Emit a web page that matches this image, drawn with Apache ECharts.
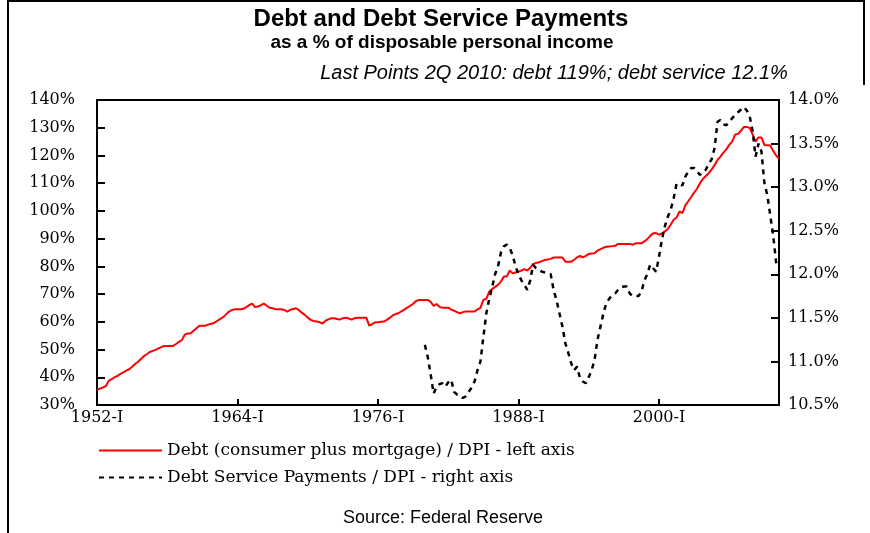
<!DOCTYPE html>
<html>
<head>
<meta charset="utf-8">
<script src="https://cdn.jsdelivr.net/npm/echarts@6/dist/echarts.min.js"></script>
<style>
html,body{margin:0;padding:0;background:#fff;}
#chart{width:870px;height:533px;}
</style>
</head>
<body>
<div id="chart"></div>
<script>
// ---- Data (quarterly, 1952-I .. 2010-II) ----
var startYear = 1952;
var endYear = 2010;
var endQuarter = 2;
var quarterNames = ['I', 'II', 'III', 'IV'];

// Debt (consumer plus mortgage) / DPI, % — left axis, one row per year (Q1..Q4)
var debtValues = [
  35.5, 35.9, 36.3, 36.8,   // 1952
  38.7, 39.3, 40.0, 40.5,   // 1953
  41.2, 41.8, 42.4, 42.9,   // 1954
  43.8, 44.8, 45.6, 46.6,   // 1955
  47.6, 48.3, 49.1, 49.5,   // 1956
  49.9, 50.4, 50.9, 51.3,   // 1957
  51.3, 51.3, 51.3, 52.0,   // 1958
  52.8, 53.4, 55.4, 55.8,   // 1959
  55.9, 56.8, 57.7, 58.6,   // 1960
  58.6, 58.6, 59.0, 59.3,   // 1961
  59.6, 60.3, 61.0, 61.6,   // 1962
  62.6, 63.6, 64.2, 64.5,   // 1963
  64.5, 64.5, 64.7, 65.3,   // 1964
  66.0, 66.6, 65.3, 65.5,   // 1965
  66.0, 66.6, 65.8, 65.1,   // 1966
  64.9, 64.5, 64.5, 64.5,   // 1967
  64.3, 63.7, 64.3, 64.6,   // 1968
  64.9, 64.2, 63.3, 62.5,   // 1969
  61.5, 60.7, 60.3, 60.1,   // 1970
  59.9, 59.4, 60.3, 60.9,   // 1971
  61.3, 61.3, 61.0, 60.8,   // 1972
  61.3, 61.5, 61.2, 60.8,   // 1973
  61.3, 61.5, 61.5, 61.5,   // 1974
  61.5, 58.6, 59.2, 59.8,   // 1975
  59.8, 60.0, 60.1, 60.7,   // 1976
  61.4, 62.3, 62.8, 63.1,   // 1977
  63.8, 64.4, 65.1, 65.8,   // 1978
  66.5, 67.5, 67.9, 67.9,   // 1979
  67.9, 67.9, 67.2, 65.7,   // 1980
  66.4, 65.4, 65.1, 65.1,   // 1981
  65.1, 64.4, 64.0, 63.5,   // 1982
  63.1, 63.5, 63.7, 63.7,   // 1983
  63.7, 63.7, 64.5, 65.0,   // 1984
  67.9, 68.3, 70.9, 71.8,   // 1985
  72.6, 73.3, 74.5, 76.3,   // 1986
  76.3, 78.5, 77.5, 77.8,   // 1987
  78.1, 78.5, 79.0, 78.5,   // 1988
  79.5, 80.9, 81.2, 81.5,   // 1989
  81.9, 82.3, 82.5, 82.7,   // 1990
  83.2, 83.2, 83.2, 83.2,   // 1991
  81.7, 81.7, 81.7, 82.4,   // 1992
  83.2, 83.8, 83.2, 83.8,   // 1993
  84.5, 84.6, 84.7, 85.7,   // 1994
  86.2, 86.7, 87.1, 87.2,   // 1995
  87.3, 87.4, 88.1, 88.1,   // 1996
  88.1, 88.1, 88.1, 87.8,   // 1997
  88.3, 88.3, 88.3, 89.0,   // 1998
  89.8, 91.0, 91.9, 92.0,   // 1999
  91.4, 91.9, 92.6, 93.5,   // 2000
  95.0, 96.8, 97.6, 99.8,   // 2001
  99.2, 102.0, 103.5, 105.0, // 2002
  106.6, 108.0, 110.0, 111.5, // 2003
  112.6, 113.6, 115.0, 116.5, // 2004
  118.4, 119.6, 121.0, 122.2, // 2005
  123.8, 125.0, 127.5, 127.8, // 2006
  128.9, 130.3, 130.3, 129.9, // 2007
  127.5, 125.0, 126.5, 126.5, // 2008
  123.8, 123.7, 123.6, 121.7, // 2009
  120.0, 118.8               // 2010
];

// Debt Service Payments / DPI, % — right axis, starts 1980-I
var serviceStartYear = 1980;
var serviceValues = [
  11.19, 11.05, 10.85, 10.63, // 1980
  10.71, 10.74, 10.75, 10.71, // 1981
  10.76, 10.79, 10.65, 10.62, // 1982
  10.61, 10.58, 10.60, 10.65, // 1983
  10.70, 10.77, 10.90, 11.00, // 1984
  11.28, 11.55, 11.72, 11.85, // 1985
  12.00, 12.09, 12.25, 12.32, // 1986
  12.34, 12.30, 12.22, 12.09, // 1987
  12.00, 11.93, 11.88, 11.82, // 1988
  11.93, 12.11, 12.07, 12.05, // 1989
  12.03, 12.02, 12.01, 12.00, // 1990
  11.82, 11.70, 11.55, 11.40, // 1991
  11.21, 11.10, 10.98, 10.90, // 1992
  10.94, 10.81, 10.77, 10.75, // 1993
  10.82, 10.90, 11.02, 11.25, // 1994
  11.40, 11.55, 11.67, 11.72, // 1995
  11.76, 11.78, 11.82, 11.85, // 1996
  11.86, 11.86, 11.78, 11.75, // 1997
  11.75, 11.75, 11.80, 11.93, // 1998
  12.00, 12.11, 12.07, 12.03, // 1999
  12.20, 12.40, 12.55, 12.66, // 2000
  12.74, 12.87, 13.04, 13.03, // 2001
  13.02, 13.12, 13.18, 13.22, // 2002
  13.22, 13.18, 13.14, 13.18, // 2003
  13.20, 13.27, 13.32, 13.45, // 2004
  13.75, 13.77, 13.72, 13.71, // 2005
  13.75, 13.79, 13.83, 13.86, // 2006
  13.89, 13.92, 13.88, 13.81, // 2007
  13.64, 13.35, 13.50, 13.41, // 2008
  13.05, 12.91, 12.68, 12.45, // 2009
  12.14, 12.10                // 2010
];

var xTickLabels = ['1952-I', '1964-I', '1976-I', '1988-I', '2000-I'];
var leftAxisMin = 30, leftAxisMax = 140, leftAxisStep = 10;
var rightAxisMin = 10.5, rightAxisMax = 14.0, rightAxisStep = 0.5;

var seriesNames = [
  'Debt (consumer plus mortgage) / DPI - left axis',
  'Debt Service Payments / DPI - right axis'
];

// ---- Build categories ----
var categories = [];
for (var y = startYear; y <= endYear; y++) {
  for (var q = 0; q < 4; q++) {
    if (y === endYear && q >= endQuarter) break;
    categories.push(y + '-' + quarterNames[q]);
  }
}
var serviceOffset = categories.indexOf(serviceStartYear + '-I');
var serviceData = [];
for (var i = 0; i < categories.length; i++) {
  var k = i - serviceOffset;
  serviceData.push(k >= 0 && k < serviceValues.length ? serviceValues[k] : null);
}

var serif = 'DejaVu Serif';

var chart = echarts.init(document.getElementById('chart'), null, {renderer: 'canvas'});
chart.setOption({
  animation: false,
  backgroundColor: '#ffffff',
  grid: {
    left: 97, right: 91, top: 100, bottom: 128,
    show: true, borderColor: '#000', borderWidth: 2, backgroundColor: 'transparent'
  },
  legend: {
    orient: 'vertical',
    left: 98, top: 442,
    padding: 0,
    itemWidth: 63, itemHeight: 14, itemGap: 10,
    itemStyle: {color: 'rgba(0,0,0,0)', borderColor: 'rgba(0,0,0,0)', borderWidth: 0, opacity: 0},
    textStyle: {fontFamily: serif, fontSize: 17, color: '#000'},
    data: seriesNames
  },
  xAxis: {
    type: 'category',
    data: categories,
    boundaryGap: false,
    axisLine: {show: true, lineStyle: {color: '#000', width: 2}},
    axisTick: {
      show: true, inside: true, length: 6,
      lineStyle: {color: '#000', width: 2},
      interval: function (idx, val) { return xTickLabels.indexOf(val) >= 0; }
    },
    axisLabel: {
      interval: function (idx, val) { return xTickLabels.indexOf(val) >= 0; },
      fontFamily: serif, fontSize: 16, color: '#000', margin: 5
    },
    splitLine: {show: false}
  },
  yAxis: [{
    type: 'value',
    position: 'left',
    min: leftAxisMin, max: leftAxisMax, interval: leftAxisStep,
    axisLine: {show: true, lineStyle: {color: '#000', width: 2}},
    axisTick: {show: true, inside: true, length: 8, lineStyle: {color: '#000', width: 2}},
    axisLabel: {
      formatter: '{value}%', fontFamily: serif, fontSize: 16, color: '#000',
      margin: 22, padding: [0, 0, 7, 0]
    },
    splitLine: {show: false}
  }, {
    type: 'value',
    position: 'right',
    min: rightAxisMin, max: rightAxisMax, interval: rightAxisStep,
    axisLine: {show: true, lineStyle: {color: '#000', width: 2}},
    axisTick: {show: true, inside: true, length: 8, lineStyle: {color: '#000', width: 2}},
    axisLabel: {
      formatter: function (v) { return v.toFixed(1) + '%'; },
      fontFamily: serif, fontSize: 16, color: '#000',
      margin: 9, padding: [0, 0, 7, 0]
    },
    splitLine: {show: false}
  }],
  series: [{
    name: seriesNames[0],
    type: 'line',
    data: debtValues,
    yAxisIndex: 0,
    symbol: 'none',
    lineStyle: {color: '#ff0000', width: 2},
    itemStyle: {color: '#ff0000'}
  }, {
    name: seriesNames[1],
    type: 'line',
    data: serviceData,
    yAxisIndex: 1,
    symbol: 'none',
    connectNulls: false,
    lineStyle: {color: '#000', width: 2.5, type: [5, 5]},
    itemStyle: {color: '#000'}
  }],
  graphic: [
    {type: 'line', shape: {x1: 8, y1: 0, x2: 8, y2: 533}, style: {stroke: '#000', lineWidth: 2}},
    {type: 'line', shape: {x1: 8, y1: 1, x2: 864, y2: 1}, style: {stroke: '#000', lineWidth: 2}},
    {type: 'line', shape: {x1: 864, y1: 0, x2: 864, y2: 85}, style: {stroke: '#000', lineWidth: 2}},
    {type: 'text', x: 441, y: 19, style: {
      text: 'Debt and Debt Service Payments', fill: '#000',
      font: 'bold 24px "Liberation Sans"', align: 'center', verticalAlign: 'middle',
      textAlign: 'center', textVerticalAlign: 'middle'}},
    {type: 'text', x: 442, y: 43, style: {
      text: 'as a % of disposable personal income', fill: '#000',
      font: 'bold 19px "Liberation Sans"', align: 'center', verticalAlign: 'middle',
      textAlign: 'center', textVerticalAlign: 'middle'}},
    {type: 'text', x: 554, y: 73, style: {
      text: 'Last Points 2Q 2010: debt 119%; debt service 12.1%', fill: '#000',
      font: 'italic 20px "Liberation Sans"', align: 'center', verticalAlign: 'middle',
      textAlign: 'center', textVerticalAlign: 'middle'}},
    {type: 'text', x: 443, y: 518, style: {
      text: 'Source: Federal Reserve', fill: '#000',
      font: '18px "Liberation Sans"', align: 'center', verticalAlign: 'middle',
      textAlign: 'center', textVerticalAlign: 'middle'}}
  ]
});
</script>
</body>
</html>
